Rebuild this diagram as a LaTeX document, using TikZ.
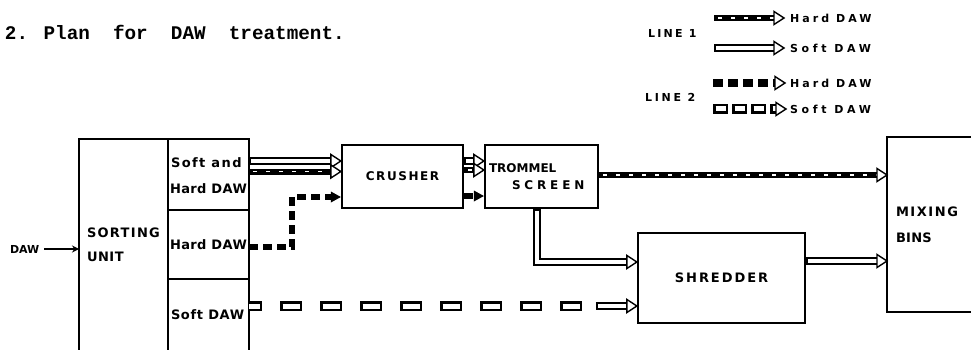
\documentclass[tikz,border=0pt]{standalone}
\usepackage{fontspec}
\setmainfont{DejaVu Sans}
\newfontfamily\titlefont{Liberation Mono}
\newfontfamily\labfont{DejaVu Sans}
\usetikzlibrary{calc,arrows.meta}

\newcommand\lbl[3]{{\labfont\bfseries\fontsize{#1}{#1}\selectfont\addfontfeature{LetterSpace=#2}#3}}
\newcommand\ohead[1]{\draw[line width=1.4pt, fill=white, line join=miter] #1 -- ++(-10,-6.5) -- ++(0,13) -- cycle;}
\newcommand\bhead[1]{\fill #1 -- ++(-10,-5.5) -- ++(0,11) -- cycle;}
\newcommand\softone[2]{%
  \draw[line width=7.5pt, shorten >=8pt] #1 #2;
  \draw[white, line width=3.5pt, shorten >=8pt, shorten <=2pt] #1 #2;
  \ohead{#2}}
\newcommand\hardone[2]{%
  \draw[line width=6pt, shorten >=8pt] #1 #2;
  \draw[white, line width=1.2pt, dash pattern=on 4pt off 9pt, shorten >=10pt, shorten <=4pt] #1 #2;
  \ohead{#2}}
\newcommand\hardtwo[2]{%
  \draw[line width=6pt, dash pattern=on 9pt off 5pt, shorten >=9pt] #1 #2;
  \bhead{#2}}

\begin{document}
\begin{tikzpicture}[x=1pt,y=-1pt, line width=2.2pt,
  box/.style={draw, line width=2.2pt, inner sep=0pt},
  area/.style={inner sep=0pt, outer sep=0pt},
  txt/.style={inner sep=0pt, outer sep=0pt, anchor=west}]
\useasboundingbox (0,0) rectangle (971,350);
\fill[white] (0,0) rectangle (971,350);

% title
\node[txt, anchor=base west, font=\titlefont\bfseries\fontsize{19.3}{20}\selectfont] (title) at (5,40) {2. Plan\ \ for\ \ DAW\ \ treatment.};

% legend
\node[txt] (line1) at (648,33) {\lbl{11}{21}{LINE 1}};
\node[txt] (leg1) at (790,18) {\lbl{11}{28}{Hard DAW}};
\node[txt] (leg2) at (790,48) {\lbl{11}{34}{Soft DAW}};
\node[txt] (line2) at (645,97) {\lbl{11}{25}{LINE 2}};
\node[txt] (leg3) at (790,83) {\lbl{11}{28}{Hard DAW}};
\node[txt] (leg4) at (790,109) {\lbl{11}{34}{Soft DAW}};
\coordinate (a1s) at ($(leg1.west)+(-76,0)$); \coordinate (a1e) at ($(leg1.west)+(-6,0)$);
\coordinate (a2s) at ($(leg2.west)+(-76,0)$); \coordinate (a2e) at ($(leg2.west)+(-6,0)$);
\coordinate (a3s) at ($(leg3.west)+(-77,0)$); \coordinate (a3e) at ($(leg3.west)+(-5,0)$);
\coordinate (a4s) at ($(leg4.west)+(-77,0)$); \coordinate (a4e) at ($(leg4.west)+(-4,0)$);
\hardone{(a1s) --}{(a1e)}
\softone{(a2s) --}{(a2e)}
\draw[line width=8pt, dash pattern=on 10pt off 5pt, shorten >=10pt] (a3s) -- (a3e);
\ohead{(a3e)}
\draw[line width=10pt, dash pattern=on 15pt off 4pt, shorten >=10pt] (a4s) -- (a4e);
\draw[white, line width=5pt, dash pattern=on 10pt off 9pt, dash phase=16.5pt, shorten >=10pt] (a4s) -- (a4e);
\ohead{(a4e)}

% sorting unit
\draw (79,350) -- (79,139) -- (249,139) -- (249,350);
\draw (168,139) -- (168,350);
\draw (168,210) -- (249,210);
\draw (168,279) -- (249,279);
\node[area, minimum width=89pt, minimum height=211pt] (sort) at (123.5,244.5) {};
\node[area, minimum width=81pt, minimum height=71pt] (c1) at (208.5,174.5) {};
\node[area, minimum width=81pt, minimum height=69pt] (c2) at (208.5,244.5) {};
\node[area, minimum width=81pt, minimum height=71pt] (c3) at (208.5,314.5) {};
\node[txt] (sortA) at (87,233) {\lbl{13}{10}{SORTING}};
\node[txt] (sortB) at (87,257) {\lbl{13}{4}{UNIT}};
\node[txt] (c1A) at (171,163) {\lbl{13}{11}{Soft and}};
\node[txt] (c1B) at (170,189) {\lbl{13}{3}{Hard DAW}};
\node[txt] (c2A) at (170,245) {\lbl{13}{3}{Hard DAW}};
\node[txt] (c3A) at (171,315) {\lbl{13}{5}{Soft DAW}};

% input
\node[txt] (dawin) at (10,249) {\lbl{11}{0}{DAW}};
\draw[line width=1.6pt, -{Stealth[length=7pt,width=7pt]}, shorten <=5pt] (dawin.east) -- (dawin.east -| sort.west);

% process boxes
\node[box, minimum width=121pt, minimum height=63pt] (crush) at (402.5,176.5) {\lbl{12}{13}{CRUSHER}};
\node[box, minimum width=113pt, minimum height=63pt] (trom) at (541.5,176.5) {};
\node[txt] (tromA) at (489,168) {\lbl{12}{0}{TROMMEL}};
\node[txt] (tromB) at (512,185) {\lbl{12}{32}{SCREEN}};
\node[box, minimum width=167pt, minimum height=90pt] (shred) at (721.5,278) {\lbl{13}{15}{SHREDDER}};
\node[area, minimum width=90pt, minimum height=175pt] (mix) at (932,224.5) {};
\draw (971,137) -| (887,312) -- (971,312);
\node[txt] (mixA) at (896,212) {\lbl{13}{12}{MIXING}};
\node[txt] (mixB) at (896,238) {\lbl{13}{2}{BINS}};

% sorting -> crusher
\softone{($(c1.east)+(0,-13.5)$) --}{($(crush.west)+(0,-15.5)$)}
\hardone{($(c1.east)+(0,-3)$) --}{($(crush.west)+(0,-5)$)}
\hardtwo{($(c2.east)+(0,2.5)$) -- ++(43,0) |-}{($(crush.west)+(0,20.5)$)}

% crusher -> trommel
\softone{($(crush.east)+(0,-15.5)$) --}{($(trom.west)+(0,-15.5)$)}
\hardone{($(crush.east)+(0,-6.5)$) --}{($(trom.west)+(0,-6.5)$)}
\hardtwo{($(crush.east)+(0,19.5)$) --}{($(trom.west)+(0,19.5)$)}

% trommel -> mixing bins
\hardone{($(trom.east)+(0,-1.5)$) --}{($(mix.west)+(0,-49.5)$)}
% trommel -> shredder
\softone{($(trom.south)+(-4.5,0)$) |-}{($(shred.west)+(0,-16)$)}
% shredder -> mixing bins
\softone{($(shred.east)+(0,-17)$) --}{($(mix.west)+(0,36.5)$)}

% soft DAW -> shredder (line 2)
\draw[line width=10pt, dash pattern=on 22pt off 18pt, dash phase=9pt, shorten >=42pt] ($(c3.east)+(0,-8.5)$) -- ($(shred.west)+(0,28)$);
\draw[white, line width=5pt, dash pattern=on 17pt off 23pt, dash phase=6.5pt, shorten >=42pt] ($(c3.east)+(0,-8.5)$) -- ($(shred.west)+(0,28)$);
\softone{($(shred.west)+(-41,28)$) --}{($(shred.west)+(0,28)$)}
\end{tikzpicture}
\end{document}
